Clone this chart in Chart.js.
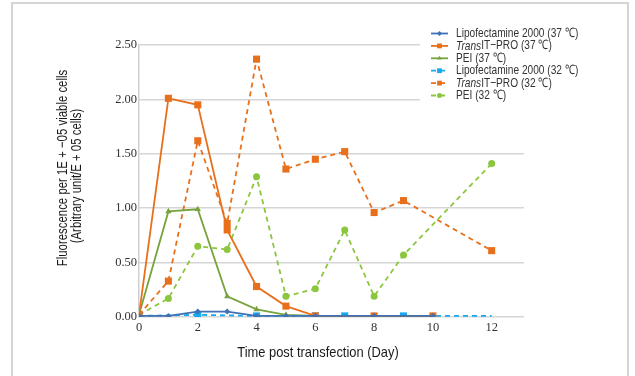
<!DOCTYPE html>
<html>
<head>
<meta charset="utf-8">
<script src="https://cdn.jsdelivr.net/npm/chart.js@4/dist/chart.umd.min.js"></script>
<style>
  html, body { margin:0; padding:0; background:#fff; }
  #wrap { position:relative; width:635px; height:376px; overflow:hidden; }
  #frame { position:absolute; left:11px; top:2px; width:618px; height:400px; border:2px solid #d4d4d4; box-sizing:border-box; }
  canvas { position:absolute; left:0; top:0; }
</style>
</head>
<body>
<div id="wrap">
  <div id="frame"></div>
  <canvas id="c" width="635" height="376"></canvas>
</div>
<script>
// data (days post transfection / fluorescence)
const seriesNames = ['Lipofectamine 2000 (37 ℃)', 'TransIT−PRO (37 ℃)', 'PEI (37 ℃)',
                     'Lipofectamine 2000 (32 ℃)', 'TransIT−PRO (32 ℃)', 'PEI (32 ℃)'];

const days37 = [0, 1, 2, 3, 4, 5, 6, 8, 10];
const lipo37 = [0.01, 0.01, 0.05, 0.05, 0.01, 0.01, 0.01, 0.01, 0.01];
const trans37 = [0.02, 2.01, 1.95, 0.80, 0.28, 0.10, 0.01, 0.01, 0.01];
const pei37 = [0.02, 0.97, 0.99, 0.19, 0.07, 0.02, 0.01, 0.01, 0.01];

const daysLipo32 = [0, 2, 4, 6, 7, 9, 12];
const lipo32 = [0.01, 0.02, 0.01, 0.01, 0.01, 0.01, 0.01];

const days32 = [0, 1, 2, 3, 4, 5, 6, 7, 8, 9, 12];
const trans32 = [0.02, 0.33, 1.62, 0.86, 2.37, 1.36, 1.45, 1.52, 0.96, 1.07, 0.61];
const pei32 = [0.02, 0.17, 0.65, 0.62, 1.29, 0.19, 0.26, 0.80, 0.19, 0.57, 1.41];

const xTicks = [0, 2, 4, 6, 8, 10, 12];
const yTicks = [0, 0.5, 1, 1.5, 2, 2.5];

const pts = (xs, ys) => xs.map((x, i) => ({ x, y: ys[i] }));

function ds(label, xs, ys, color, dashed, style, r) {
  return {
    label, data: pts(xs, ys),
    borderColor: color, backgroundColor: color,
    borderWidth: 1.8, borderDash: dashed ? [5, 4] : [],
    pointStyle: style, pointRadius: r, pointHoverRadius: r,
    pointBorderWidth: 0, tension: 0
  };
}

const datasets = [
  ds(seriesNames[0], days37, lipo37, '#4170b3', false, 'rectRot', 3),
  ds(seriesNames[1], days37, trans37, '#e8701c', false, 'rect', 5),
  ds(seriesNames[2], days37, pei37, '#77a33c', false, 'triangle', 3.6),
  ds(seriesNames[3], daysLipo32, lipo32, '#17a9ef', true, 'rect', 5),
  ds(seriesNames[4], days32, trans32, '#e8701c', true, 'rect', 5),
  ds(seriesNames[5], days32, pei32, '#8cc63f', true, 'circle', 3.5)
];
// no marker drawn at the last cyan point
datasets[3].pointRadius = lipo32.map((v, i) => i === lipo32.length - 1 ? 0 : 5);

const SANS = '"Liberation Sans", Arial, sans-serif';

// text squeezed horizontally (the original uses a condensed face)
function narrowText(ctx, text, x, y, sx) {
  ctx.save();
  ctx.translate(x, y);
  ctx.scale(sx, 1);
  ctx.fillText(text, 0, 0);
  const w = ctx.measureText(text).width * sx;
  ctx.restore();
  return w;
}

// custom legend + axis titles
const decor = {
  id: 'decor',
  afterDraw(chart) {
    const ctx = chart.ctx;
    ctx.save();
    ctx.fillStyle = '#fff';
    ctx.fillRect(420, 26, 175, 78);
    const x0 = 431, x1 = 448, tx = 456, sx = 0.78;
    chart.data.datasets.forEach((d, i) => {
      const y = 33.5 + i * 12.4;
      ctx.strokeStyle = d.borderColor;
      ctx.lineWidth = 1.8;
      ctx.setLineDash(d.borderDash);
      ctx.beginPath(); ctx.moveTo(x0, y); ctx.lineTo(x1, y); ctx.stroke();
      ctx.setLineDash([]);
      ctx.fillStyle = d.backgroundColor;
      Chart.helpers.drawPoint(ctx, { pointStyle: d.pointStyle, radius: d.pointStyle === 'rect' ? 3.4 : 2.5, borderWidth: 0 }, (x0 + x1) / 2, y);
      ctx.fillStyle = '#333';
      ctx.textBaseline = 'middle';
      ctx.textAlign = 'left';
      let label = d.label, x = tx;
      if (label.startsWith('Trans')) {
        ctx.font = 'italic 13px ' + SANS;
        x += narrowText(ctx, 'Trans', x, y, sx);
        label = label.slice(5);
      }
      ctx.font = '13px ' + SANS;
      narrowText(ctx, label, x, y, sx);
    });
    // axis titles
    ctx.fillStyle = '#1a1a1a';
    ctx.textAlign = 'center';
    ctx.textBaseline = 'middle';
    ctx.font = '15px ' + SANS;
    narrowText(ctx, 'Time post transfection (Day)', 318, 353, 0.86);
    ctx.translate(63, 168);
    ctx.rotate(-Math.PI / 2);
    ctx.font = '15px ' + SANS;
    narrowText(ctx, 'Fluorescence per 1E + −05 viable cells', 0, 0, 0.76);
    narrowText(ctx, '(Arbitrary unit/E + 05 cells)', -8, 13.5, 0.76);
    ctx.restore();
  }
};

new Chart(document.getElementById('c'), {
  type: 'line',
  data: { datasets },
  plugins: [decor],
  options: {
    responsive: false, animation: false, events: [],
    layout: { padding: { left: 0, top: 45, right: 111, bottom: 0 } },
    plugins: { legend: { display: false }, tooltip: { enabled: false } },
    scales: {
      x: {
        type: 'linear', min: 0, max: 13.1,
        afterBuildTicks: s => { s.ticks = xTicks.map(v => ({ value: v })); },
        afterFit: s => { s.height = 59; },
        grid: { display: false, drawTicks: false },
        border: { display: false },
        ticks: { padding: 3, color: '#333', font: { family: '"Liberation Serif", serif', size: 12.5 }, maxRotation: 0 }
      },
      y: {
        min: 0, max: 2.5,
        afterBuildTicks: s => { s.ticks = yTicks.map(v => ({ value: v })); },
        afterFit: s => { s.width = 139; },
        grid: { color: '#d6d6d6', lineWidth: 1.5, drawTicks: false },
        border: { display: true, color: '#cfcfcf', width: 1.5 },
        ticks: { padding: 2, color: '#333', font: { family: '"Liberation Serif", serif', size: 12.5 },
                 callback: v => v.toFixed(2) }
      }
    }
  }
});
</script>
</body>
</html>
